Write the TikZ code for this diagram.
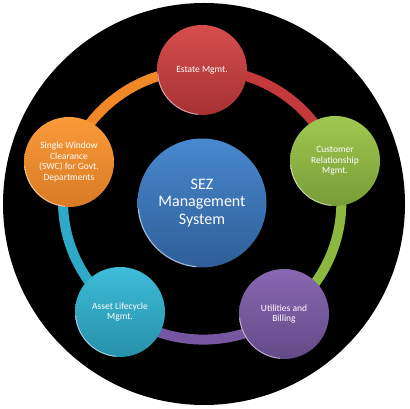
\documentclass[tikz,border=0pt]{standalone}
\usepackage{fontspec}
\setmainfont{Carlito}
\usetikzlibrary{backgrounds}

\definecolor{estred}{RGB}{196,58,60}
\definecolor{estredlt}{RGB}{214,78,78}
\definecolor{crmgreen}{RGB}{140,184,64}
\definecolor{crmgreenlt}{RGB}{160,200,80}
\definecolor{utilpurple}{RGB}{118,86,160}
\definecolor{utilpurplelt}{RGB}{136,104,178}
\definecolor{assetcyan}{RGB}{46,170,200}
\definecolor{assetcyanlt}{RGB}{62,188,216}
\definecolor{swcorange}{RGB}{240,136,40}
\definecolor{swcorangelt}{RGB}{250,154,58}
\definecolor{hubblue}{RGB}{58,118,190}
\definecolor{hubbluelt}{RGB}{72,136,206}

\begin{document}
\begin{tikzpicture}[x=1pt, y=1pt, text=white,
  module/.style={circle, minimum size=90pt, inner sep=0pt, align=center,
    font=\fontsize{9.5}{10.5}\selectfont,
    path picture={\draw[white, opacity=.55, line width=1pt]
      (path picture bounding box.center) ++(185:44.5) arc[start angle=185, end angle=265, radius=44.5];}},
  hub/.style={circle, minimum size=129pt, inner sep=0pt, align=center,
    font=\fontsize{16}{17.5}\selectfont, top color=hubbluelt, bottom color=hubblue!80!black,
    path picture={\draw[white, opacity=.55, line width=1.2pt]
      (path picture bounding box.center) ++(185:64) arc[start angle=185, end angle=265, radius=64];}},
  ring/.style={line width=10pt}]

  \useasboundingbox (0,0) rectangle (410,409);

  \node[hub] (sez) at (202,206) {SEZ\\Management\\System};

  \node[module, top color=estredlt, bottom color=estred!85!black] (estate) at (202,339) {Estate Mgmt.};
  \node[module, top color=crmgreenlt, bottom color=crmgreen!85!black] (crm) at (335,248) {Customer\\Relationship\\Mgmt.};
  \node[module, top color=utilpurplelt, bottom color=utilpurple!85!black] (util) at (284,95) {Utilities and\\Billing};
  \node[module, top color=assetcyanlt, bottom color=assetcyan!85!black] (asset) at (120,97) {Asset Lifecycle\\Mgmt.};
  \node[module, top color=swcorangelt, bottom color=swcorange!90!black] (swc) at (69,247) {Single Window\\Clearance\\(SWC) for Govt.\\Departments};

  \begin{scope}[on background layer]
    \fill[black] (204,205) circle[radius=201];
    \draw[ring, estred] (estate.center) to[bend left=36, looseness=.94] (crm.center);
    \draw[ring, crmgreen] (crm.center) to[bend left=36, looseness=.94] (util.center);
    \draw[ring, utilpurple] (util.center) to[bend left=36, looseness=.94] (asset.center);
    \draw[ring, assetcyan] (asset.center) to[bend left=36, looseness=.94] (swc.center);
    \draw[ring, swcorange] (swc.center) to[bend left=36, looseness=.94] (estate.center);
  \end{scope}
\end{tikzpicture}
\end{document}
